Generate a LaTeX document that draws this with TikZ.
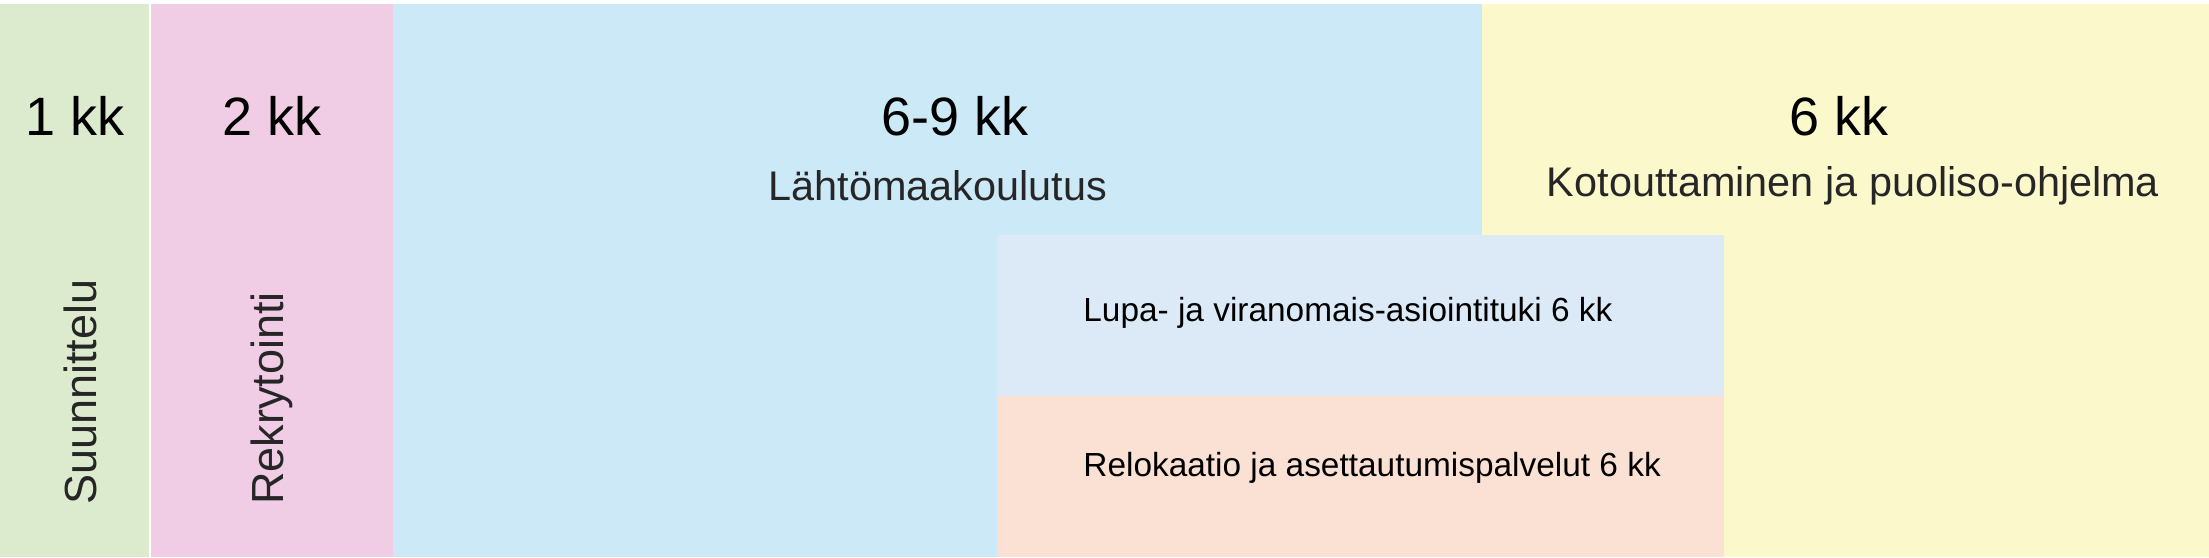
\documentclass[tikz,border=0pt]{standalone}
\usepackage{fontspec}
\setmainfont{Liberation Sans}
\usetikzlibrary{positioning}

\definecolor{suunGreen}{HTML}{DCEBCE}
\definecolor{rekrPink}{HTML}{F0CDE4}
\definecolor{lahtBlue}{HTML}{CBE9F7}
\definecolor{kotoYellow}{HTML}{FBF8CC}
\definecolor{lupaBlue}{HTML}{DCEAF7}
\definecolor{reloPeach}{HTML}{FBE0D4}

\begin{document}
\begin{tikzpicture}[
  x=0.5pt, y=-0.5pt,
  duration/.style={inner sep=0pt, text=black, font=\fontsize{27}{32}\selectfont},
  phase/.style={inner sep=0pt, text=black!85, font=\fontsize{20.7}{25}\selectfont},
  sidephase/.style={inner sep=0pt, text=black!85, rotate=90, anchor=west, font=\fontsize{22.5}{27}\selectfont},
  service/.style={inner sep=0pt, text=black, anchor=west, font=\fontsize{16.7}{20}\selectfont}
]
\useasboundingbox (0,0) rectangle (2209,557);
\fill[white] (0,0) rectangle (2209,557);

% phase backgrounds
\fill[suunGreen] (0,4) rectangle (149,557);
\fill[rekrPink] (151,4) rectangle (393,557);
\fill[lahtBlue] (393,4) rectangle (1482,557);
\fill[kotoYellow] (1482,4) rectangle (2209,557);
\fill[lupaBlue] (997,235) rectangle (1724,396);
\fill[reloPeach] (997,396) rectangle (1724,557);

% durations
\node[duration] (d1) at (75,116) {1 kk};
\node[duration] (d2) at (272,116) {2 kk};
\node[duration] (d3) at (955,116) {6-9 kk};
\node[duration] (d4) at (1839,116) {6 kk};

% phase names
\node[sidephase] (suun) at (80,505) {Suunnittelu};
\node[sidephase] (rekr) at (272,505) {Rekrytointi};
\node[phase] (laht) at (938,186) {Lähtömaakoulutus};
\node[phase] (koto) at (1853,186) {Kotouttaminen ja puoliso-ohjelma};

% parallel services
\node[service] (lupa) at (1083,313) {Lupa- ja viranomais-asiointituki 6 kk};
\node[service] (relo) at (1083,468) {Relokaatio ja asettautumispalvelut 6 kk};

\end{tikzpicture}
\end{document}
